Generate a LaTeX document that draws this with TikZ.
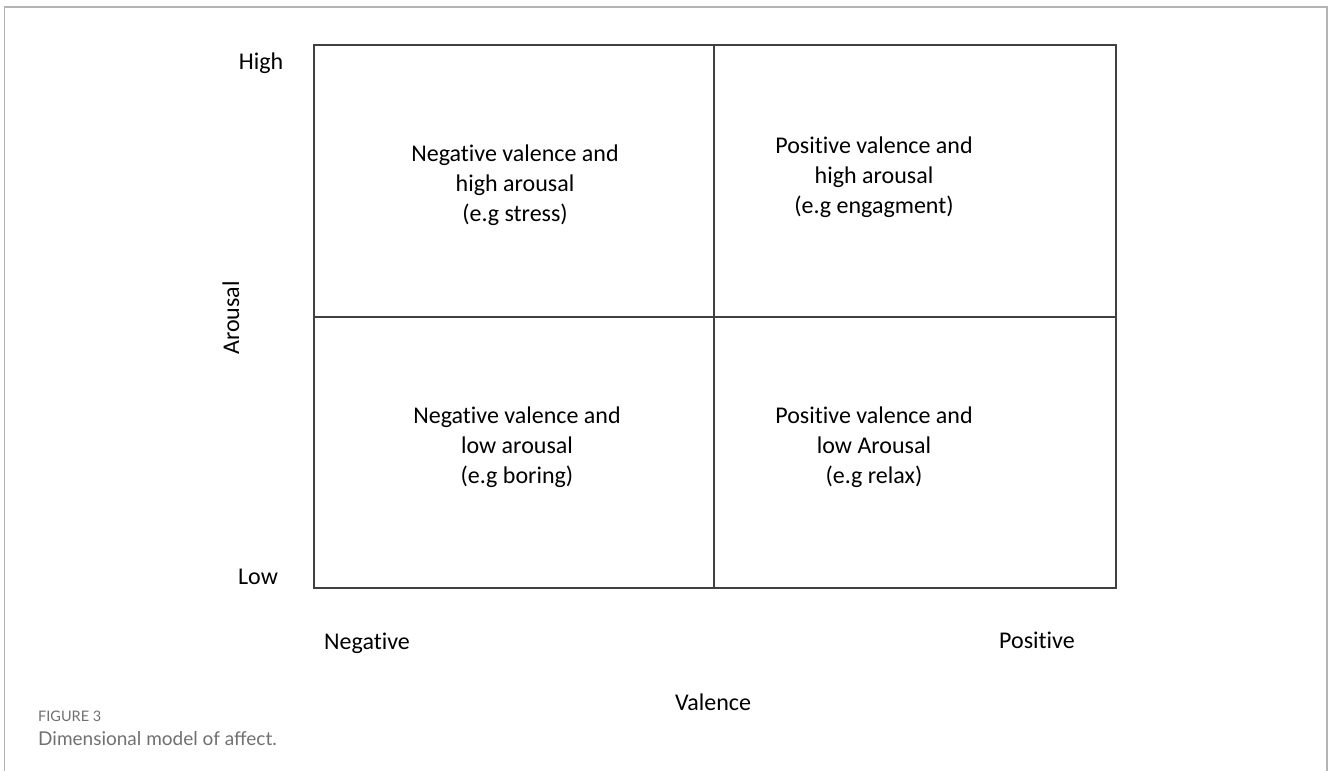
\documentclass[tikz,border=0pt]{standalone}
\usepackage{fontspec}
\setmainfont{Carlito}[Ligatures=NoCommon]
\newfontfamily\capfont{Lato}
\definecolor{framegray}{HTML}{B4B4B4}
\definecolor{capgray}{HTML}{707070}
\definecolor{linegray}{HTML}{404040}
\begin{document}
\begin{tikzpicture}[x=1pt,y=-1pt,
  lbl/.style={font=\fontsize{24}{30}\selectfont, inner sep=0pt, text=black},
  quad/.style={font=\fontsize{24}{30}\selectfont, align=center, inner sep=0pt, text=black},
  grid/.style={draw=linegray, line width=1.3pt}]
\useasboundingbox (0,0) rectangle (1328,771);
\draw[framegray, line width=1.5pt] (4.5,771) -- (4.5,7) -- (1327,7) -- (1327,771);
\coordinate (tl) at (314,45);
\coordinate (br) at (1116,588);
\coordinate (tm) at (714,45);
\coordinate (bm) at (714,588);
\coordinate (lm) at (314,317);
\coordinate (rm) at (1116,317);
\draw[grid] (tl) rectangle (br);
\draw[grid] (tm) -- (bm);
\draw[grid] (lm) -- (rm);
\node[lbl] (high) at (261,63) {High};
\node[lbl] (low) at (258,577) {Low};
\node[lbl] (neg) at (367,643) {Negative};
\node[lbl] (pos) at (1037,640) {Positive};
\node[lbl] (val) at (713,702) {Valence};
\node[lbl, rotate=90] (aro) at (231,318) {Arousal};
\node[quad] (nw) at (515,185) {Negative valence and\\high arousal\\(e.g stress)};
\node[quad] (ne) at (874,177) {Positive valence and\\high arousal\\(e.g engagment)};
\node[quad] (sw) at (517,447) {Negative valence and\\low arousal\\(e.g boring)};
\node[quad] (se) at (874,447) {Positive valence and\\low Arousal\\(e.g relax)};
\node[anchor=west, inner sep=0pt, text=capgray, font=\capfont\fontsize{14.5}{16}\selectfont] (fig) at (38,716) {FIGURE 3};
\node[anchor=west, inner sep=0pt, text=capgray, font=\capfont\fontsize{19}{22}\selectfont] (cap) at (38,739) {Dimensional model of affect.};
\end{tikzpicture}
\end{document}
